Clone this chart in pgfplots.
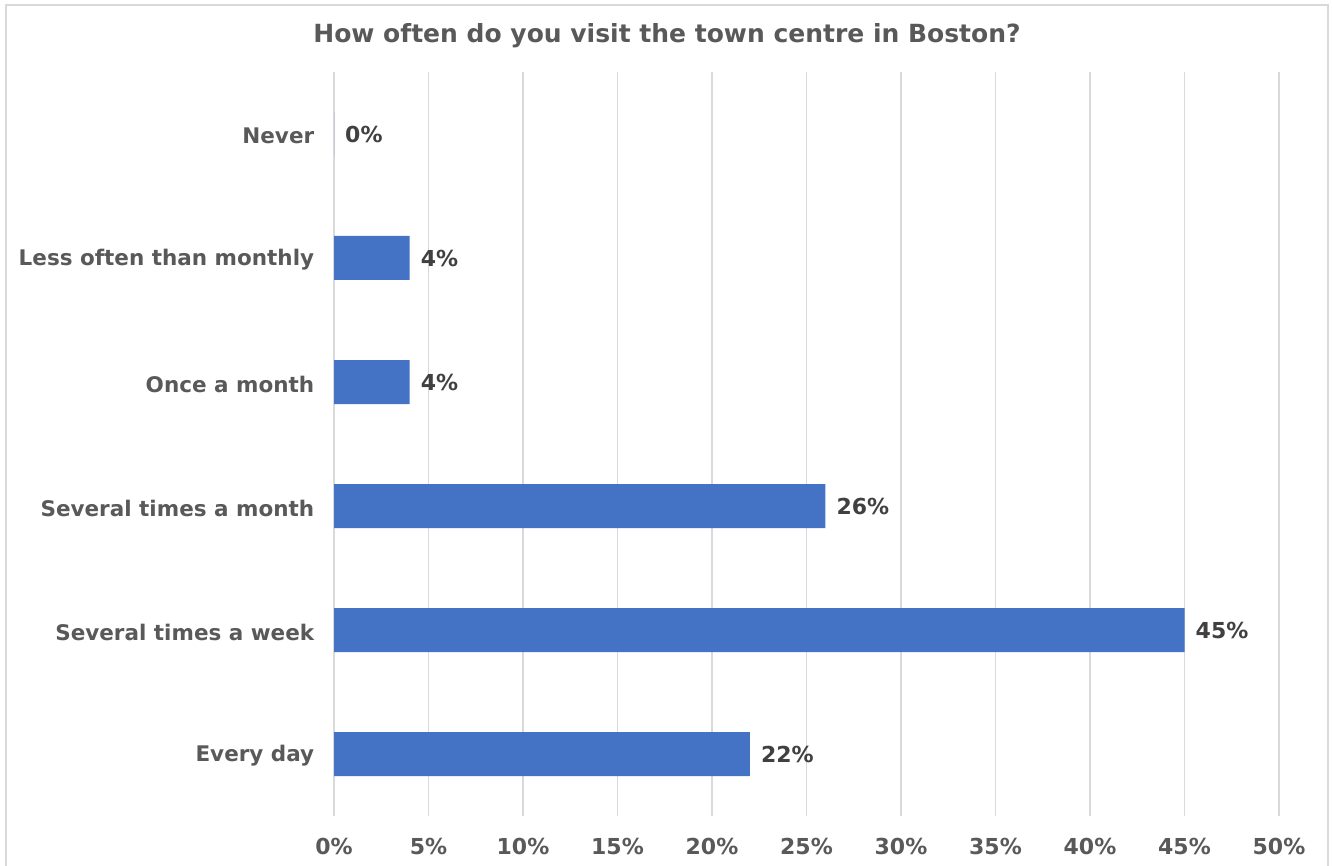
\documentclass[border=0pt]{standalone}
\usepackage{fontspec}
\setmainfont{DejaVu Sans}
\usepackage{pgfplots}
\pgfplotsset{compat=1.18}
\definecolor{barblue}{HTML}{4472C4}
\definecolor{gridgray}{HTML}{D9D9D9}
\definecolor{txtgray}{HTML}{595959}
\definecolor{lblgray}{HTML}{404040}
\begin{document}
\begin{tikzpicture}
\path[use as bounding box] (0,0) rectangle (1332pt,865pt);
\draw[gridgray, line width=1.5pt] (6pt,-10pt) -- (6pt,860pt) -- (1328pt,860pt) -- (1328pt,-10pt);
\node[font=\fontsize{25pt}{30pt}\selectfont\bfseries, text=txtgray] at (667pt,829pt) {How often do you visit the town centre in Boston?};
\begin{axis}[
  at={(334pt,49pt)}, anchor=south west,
  scale only axis, width=945pt, height=744pt,
  xbar, bar width=44pt, bar shift=0pt,
  xmin=0, xmax=50, ymin=-0.5, ymax=5.5,
  xtick={0,5,...,50},
  xticklabel={\pgfmathprintnumber{\tick}\%},
  /pgf/number format/assume math mode=true,
  ytick={0,1,2,3,4,5},
  yticklabels={Every day,Several times a week,Several times a month,Once a month,Less often than monthly,Never},
  axis line style={draw=none},
  major tick style={draw=none},
  xmajorgrids, grid style={gridgray, line width=1.2pt},
  ticklabel style={font=\fontsize{22pt}{26pt}\selectfont\bfseries, text=txtgray},
  yticklabel style={anchor=east, xshift=-12pt, yshift=-2pt, font=\fontsize{21.5pt}{26pt}\selectfont\bfseries},
  xticklabel style={anchor=center, yshift=-30pt},
  nodes near coords={\pgfmathprintnumber{\pgfplotspointmeta}\%},
  point meta=x,
  every node near coord/.append style={font=\fontsize{22pt}{26pt}\selectfont\bfseries, text=lblgray, anchor=west, inner sep=0pt, xshift=11pt},
]
\addplot[fill=barblue, draw=none] coordinates {(22,0) (45,1) (26,2) (4,3) (4,4) (0,5)};
\end{axis}
\end{tikzpicture}
\end{document}
